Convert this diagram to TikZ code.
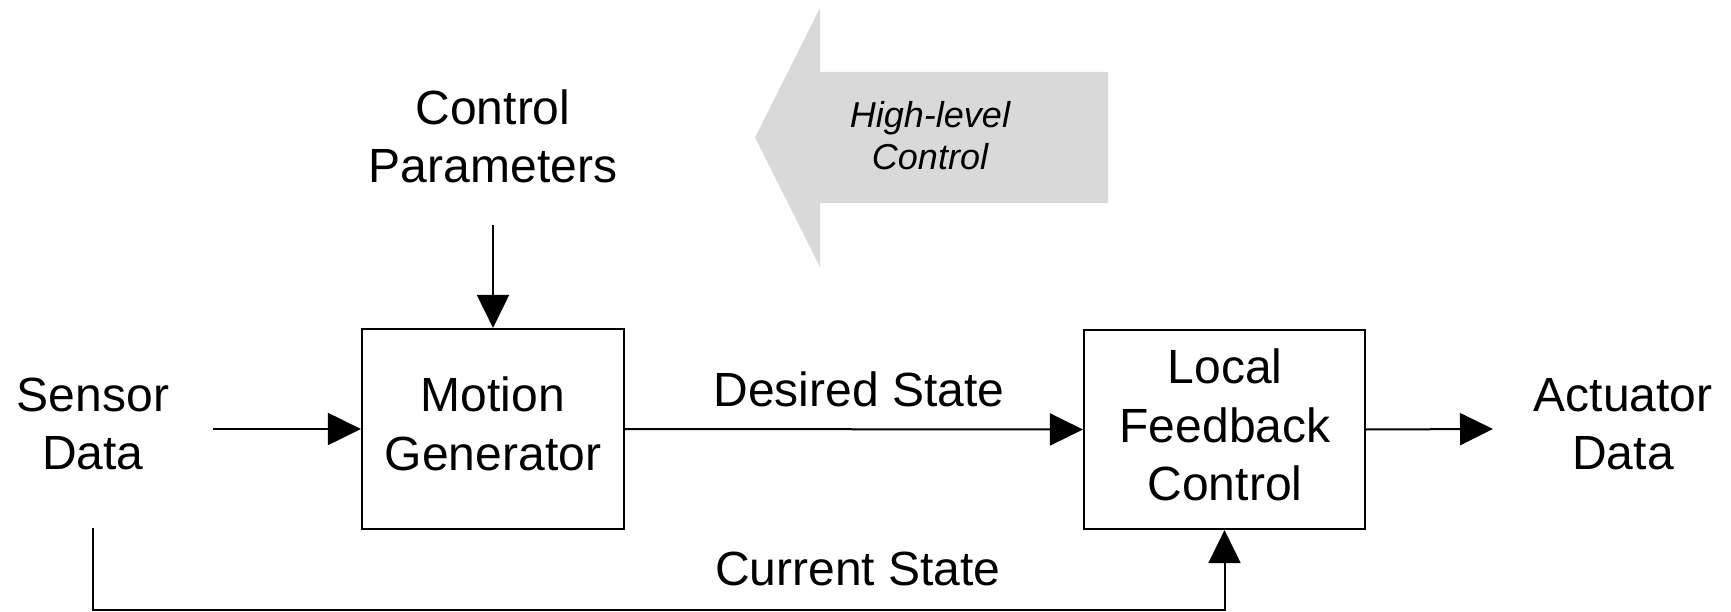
\documentclass[tikz,border=0pt]{standalone}
\usepackage{fontspec}
\setmainfont{Liberation Sans}
\usetikzlibrary{arrows.meta}
\definecolor{hlgray}{HTML}{D9D9D9}
\tikzset{
  lbl/.style={align=center, inner sep=0pt, font=\fontsize{48}{58}\selectfont},
  blockbox/.style={draw, line width=2.2pt, inner sep=0pt},
  arr/.style={line width=2pt, -{Triangle[length=33pt,width=32pt]}},
  conn/.style={line width=2pt}
}
\begin{document}
\begin{tikzpicture}[x=1pt,y=-1pt]
\useasboundingbox (0,0) rectangle (1731,612);
% high-level control big arrow
\fill[hlgray] (1108,72) -- (820,72) -- (820,8) -- (755,137.5) -- (820,267) -- (820,203) -- (1108,203) -- cycle;
\node[align=center, inner sep=0pt, font=\fontsize{36}{42}\selectfont\itshape] (hl) at (930,136) {High-level\\Control};
% nodes
\node[lbl] (cp) at (493,136) {Control\\Parameters};
\node[lbl] (sd) at (93,424) {Sensor\\Data};
\node[lbl] (ad) at (1623,424) {Actuator\\Data};
\node[blockbox, minimum width=262pt, minimum height=200pt] (mg) at (493,429) {};
\node[lbl, font=\fontsize{48}{59}\selectfont] (mgt) at (493,424) {Motion\\Generator};
\node[blockbox, minimum width=281pt, minimum height=199pt] (lfc) at (1224.5,429.5) {};
\node[lbl, font=\fontsize{48}{58.5}\selectfont] (lfct) at (1225,425) {Local\\Feedback\\Control};
\node[lbl] (ds) at (859,389) {Desired State};
\node[lbl] (cs) at (858,569) {Current State};
% coordinates
\coordinate (sin) at (213,429);
\coordinate (aout) at (1493,429);
\coordinate (cpin) at (493,225);
\coordinate (fb) at (93,528);
\coordinate (fbb) at (93,610);
% connectors
\draw[arr] (sin) -- (mg.west);
\draw[arr] (mg.east) -- (lfc.west);
\draw[arr] (lfc.east) -- (aout);
\draw[arr] (cpin) -- (mg.north);
\draw[arr] (fb) -- (fbb) -| (lfc.south);
\end{tikzpicture}
\end{document}
